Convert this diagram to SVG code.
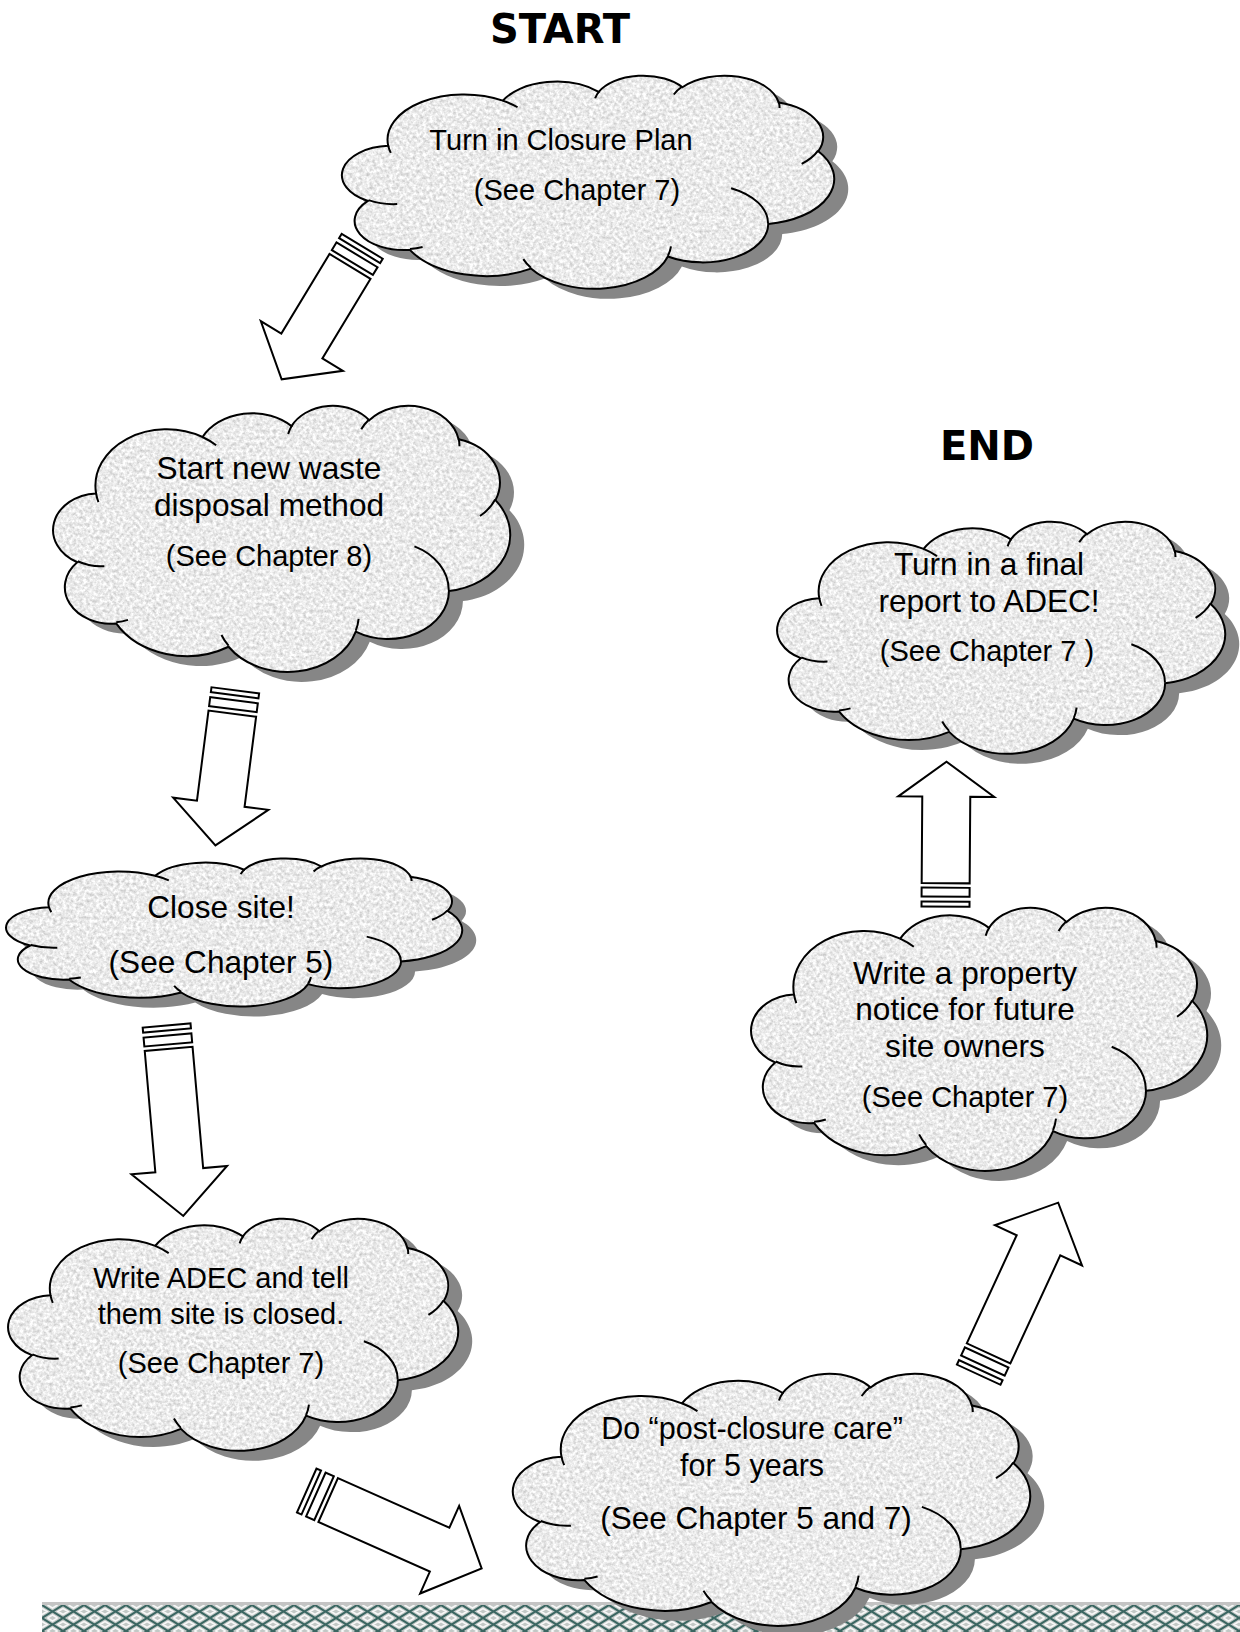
<svg xmlns="http://www.w3.org/2000/svg" xmlns:xlink="http://www.w3.org/1999/xlink" width="1240" height="1632" viewBox="0 0 1240 1632">
<style>
.shadow{fill:#868686;}
.body{fill:#ebebeb;}
.outline{fill:none;stroke:#000;stroke-width:2;}
.t{font-family:"Liberation Sans",Arial,sans-serif;fill:#000;text-anchor:middle;}
.title{font-family:"DejaVu Sans",sans-serif;font-weight:bold;font-size:40px;text-anchor:middle;fill:#000;}
.arrow rect,.arrow path{fill:#fff;stroke:#000;stroke-width:2;stroke-linejoin:miter;}
</style>
<defs>
<path id="cloudShape" vector-effect="non-scaling-stroke" d="M9.03 33.26 A15.63 21.27 0 0 1 32.42 12.04 A12.34 16.82 0 0 1 51.98 7.94 A10.10 13.76 0 0 1 69.06 5.74 A11.24 15.27 0 0 1 88.70 12.90 A12.34 16.84 0 0 1 96.80 35.78 A15.68 21.34 0 0 1 86.58 69.91 A13.39 18.21 0 0 1 66.10 85.21 A15.63 21.33 0 0 1 38.15 90.89 A17.87 24.41 0 0 1 13.44 82.10 A10.09 13.70 0 0 1 4.89 59.13 A10.06 13.76 0 0 1 9.03 33.26 Z"/>
<path id="cloudCreases" vector-effect="non-scaling-stroke" d="M10.86 60.60 A10.06 13.76 0 0 1 5.00 58.75 M16.04 80.78 A10.09 13.70 0 0 1 13.47 81.67 M38.14 90.49 A15.63 21.33 0 0 1 36.59 86.45 M66.73 80.44 A15.63 21.33 0 0 1 66.11 84.86 M79.00 53.13 A13.39 18.21 0 0 1 86.53 69.65 M96.75 35.54 A12.34 16.84 0 0 1 93.40 41.74 M88.71 12.56 A11.24 15.27 0 0 1 88.89 15.48 M67.31 9.15 A11.24 15.27 0 0 1 69.03 5.42 M51.25 10.93 A10.10 13.76 0 0 1 52.08 7.71 M32.41 12.02 A15.63 21.27 0 0 1 35.42 15.14 M9.55 36.55 A15.63 21.27 0 0 1 9.03 33.27"/>
<filter id="granite" x="0" y="0" width="1" height="1" color-interpolation-filters="sRGB">
<feTurbulence type="fractalNoise" baseFrequency="0.3" numOctaves="3" seed="7" result="n"/>
<feColorMatrix in="n" type="matrix" values="0.38 0 0 0 0.73  0.38 0 0 0 0.73  0.38 0 0 0 0.73  0 0 0 0 1" result="g"/>
<feComposite in="g" in2="SourceAlpha" operator="in"/>
</filter>
<pattern id="weave" patternUnits="userSpaceOnUse" x="42" y="1605" width="21" height="13">
<rect width="21" height="13" fill="#c2c8c6"/>
<path d="M0 0 L10.5 6.5 L21 0 M0 13 L10.5 6.5 L21 13" stroke="#3a6661" stroke-width="2" fill="none"/>
<path d="M0 3.5 L5 6.5 L0 9.5 M21 3.5 L16 6.5 L21 9.5 M5.5 0 L10.5 3 L15.5 0 M5.5 13 L10.5 10 L15.5 13" stroke="#f8f8f8" stroke-width="1.6" fill="none"/>
</pattern>
</defs>

<rect width="1240" height="1632" fill="#fff"/>

<g id="band">
<rect x="42" y="1602" width="1198" height="30" fill="url(#weave)"/>
<rect x="42" y="1602" width="1198" height="3" fill="#c4c4c4"/>
</g>

<text id="start-label" class="title" x="560" y="43">START</text>
<text id="end-label" class="title" x="987" y="460">END</text>

<g id="node-closure-plan">
<use href="#cloudShape" class="shadow" transform="translate(358,85) scale(4.90,2.13)"/>
<g filter="url(#granite)"><use href="#cloudShape" class="body" transform="translate(344,75) scale(4.90,2.13)"/></g>
<use href="#cloudShape" class="outline" transform="translate(344,75) scale(4.90,2.13)"/>
<use href="#cloudCreases" class="outline" transform="translate(344,75) scale(4.90,2.13)"/>
<text class="t" x="561" y="150" font-size="29">Turn in Closure Plan</text>
<text class="t" x="577" y="200" font-size="29">(See Chapter 7)</text>
</g>

<g id="node-new-disposal">
<use href="#cloudShape" class="shadow" transform="translate(69,415) scale(4.55,2.66)"/>
<g filter="url(#granite)"><use href="#cloudShape" class="body" transform="translate(55,405) scale(4.55,2.66)"/></g>
<use href="#cloudShape" class="outline" transform="translate(55,405) scale(4.55,2.66)"/>
<use href="#cloudCreases" class="outline" transform="translate(55,405) scale(4.55,2.66)"/>
<text class="t" x="269" y="479" font-size="31.6">Start new waste</text>
<text class="t" x="269" y="516" font-size="31.6">disposal method</text>
<text class="t" x="269" y="566" font-size="29">(See Chapter 8)</text>
</g>

<g id="node-close-site">
<use href="#cloudShape" class="shadow" transform="translate(22,868) scale(4.54,1.48)"/>
<g filter="url(#granite)"><use href="#cloudShape" class="body" transform="translate(8,858) scale(4.54,1.48)"/></g>
<use href="#cloudShape" class="outline" transform="translate(8,858) scale(4.54,1.48)"/>
<use href="#cloudCreases" class="outline" transform="translate(8,858) scale(4.54,1.48)"/>
<text class="t" x="221" y="918" font-size="31.6">Close site!</text>
<text class="t" x="221" y="973" font-size="31.6">(See Chapter 5)</text>
</g>

<g id="node-write-adec">
<use href="#cloudShape" class="shadow" transform="translate(24,1228) scale(4.48,2.32)"/>
<g filter="url(#granite)"><use href="#cloudShape" class="body" transform="translate(10,1218) scale(4.48,2.32)"/></g>
<use href="#cloudShape" class="outline" transform="translate(10,1218) scale(4.48,2.32)"/>
<use href="#cloudCreases" class="outline" transform="translate(10,1218) scale(4.48,2.32)"/>
<text class="t" x="221" y="1288" font-size="29">Write ADEC and tell</text>
<text class="t" x="221" y="1324" font-size="29">them site is closed.</text>
<text class="t" x="221" y="1373" font-size="29">(See Chapter 7)</text>
</g>

<g id="node-post-closure">
<use href="#cloudShape" class="shadow" transform="translate(529,1383) scale(5.15,2.52)"/>
<g filter="url(#granite)"><use href="#cloudShape" class="body" transform="translate(515,1373) scale(5.15,2.52)"/></g>
<use href="#cloudShape" class="outline" transform="translate(515,1373) scale(5.15,2.52)"/>
<use href="#cloudCreases" class="outline" transform="translate(515,1373) scale(5.15,2.52)"/>
<text class="t" x="752" y="1439" font-size="30.5">Do “post-closure care”</text>
<text class="t" x="752" y="1476" font-size="30.5">for 5 years</text>
<text class="t" x="756" y="1529" font-size="31.5">(See Chapter 5 and 7)</text>
</g>

<g id="node-property-notice">
<use href="#cloudShape" class="shadow" transform="translate(767,917) scale(4.54,2.63)"/>
<g filter="url(#granite)"><use href="#cloudShape" class="body" transform="translate(753,907) scale(4.54,2.63)"/></g>
<use href="#cloudShape" class="outline" transform="translate(753,907) scale(4.54,2.63)"/>
<use href="#cloudCreases" class="outline" transform="translate(753,907) scale(4.54,2.63)"/>
<text class="t" x="965" y="984" font-size="31.6">Write a property</text>
<text class="t" x="965" y="1020" font-size="31.6">notice for future</text>
<text class="t" x="965" y="1057" font-size="31.6">site owners</text>
<text class="t" x="965" y="1107" font-size="29">(See Chapter 7)</text>
</g>

<g id="node-final-report">
<use href="#cloudShape" class="shadow" transform="translate(793,531) scale(4.46,2.32)"/>
<g filter="url(#granite)"><use href="#cloudShape" class="body" transform="translate(779,521) scale(4.46,2.32)"/></g>
<use href="#cloudShape" class="outline" transform="translate(779,521) scale(4.46,2.32)"/>
<use href="#cloudCreases" class="outline" transform="translate(779,521) scale(4.46,2.32)"/>
<text class="t" x="989" y="575" font-size="31.6">Turn in a final</text>
<text class="t" x="989" y="612" font-size="31.6">report to ADEC!</text>
<text class="t" x="987" y="661" font-size="29">(See Chapter 7 )</text>
</g>

<g id="connectors" class="arrow">
<g id="a1" transform="translate(362.2,246.3) rotate(121.2)">
<rect x="0" y="-24" width="5" height="48"/><rect x="10" y="-24" width="9" height="48"/>
<path d="M23.5,-24 H116.5 V-48 L155.5,0 L116.5,48 V24 H23.5 Z"/>
</g>
<g id="a2" transform="translate(235.3,690.3) rotate(97.3)">
<rect x="0" y="-24" width="5" height="48"/><rect x="10" y="-24" width="9" height="48"/>
<path d="M23.5,-24 H114.4 V-48 L156.4,0 L114.4,48 V24 H23.5 Z"/>
</g>
<g id="a3" transform="translate(166.6,1025.5) rotate(85)">
<rect x="0" y="-24" width="5" height="48"/><rect x="10" y="-24" width="9" height="48"/>
<path d="M23.5,-24 H145.2 V-48 L191.2,0 L145.2,48 V24 H23.5 Z"/>
</g>
<g id="a4" transform="translate(306.7,1490.5) rotate(24)">
<rect x="0" y="-24" width="5" height="48"/><rect x="10" y="-24" width="9" height="48"/>
<path d="M23.5,-24 H145.5 V-48 L191.5,0 L145.5,48 V24 H23.5 Z"/>
</g>
<g id="a5" transform="translate(978.7,1374.7) rotate(-65.2)">
<rect x="0" y="-24" width="5" height="48"/><rect x="10" y="-24" width="9" height="48"/>
<path d="M23.5,-24 H142.5 V-48 L189.5,0 L142.5,48 V24 H23.5 Z"/>
</g>
<g id="a6" transform="translate(945.5,906.7) rotate(-89.6)">
<rect x="0" y="-24" width="5" height="48"/><rect x="10" y="-24" width="9" height="48"/>
<path d="M23.5,-24 H110 V-48 L145,0 L110,48 V24 H23.5 Z"/>
</g>
</g>
</svg>
